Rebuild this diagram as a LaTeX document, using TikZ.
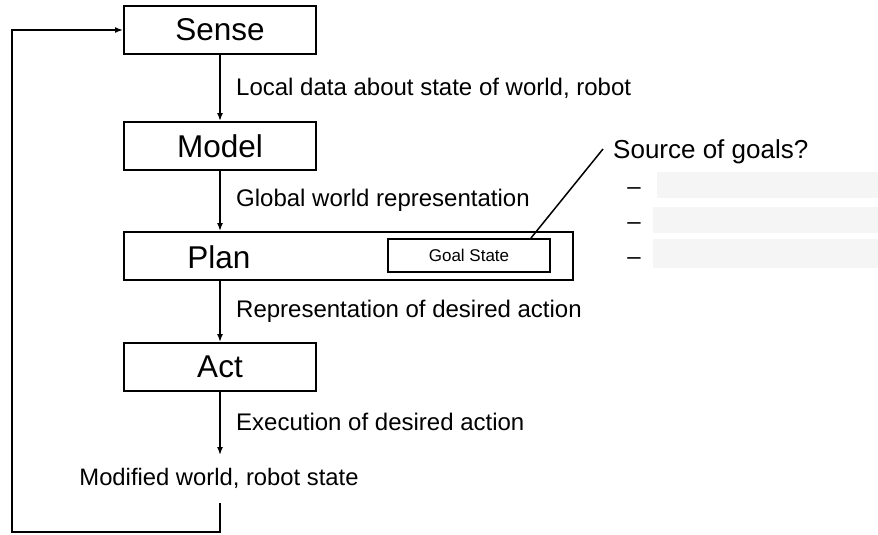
\documentclass[tikz,border=0pt]{standalone}
\usepackage{fontspec}
\setmainfont{Liberation Sans}
\usetikzlibrary{arrows.meta}
\begin{document}
\begin{tikzpicture}[x=1pt,y=-1pt,
  stagebox/.style={draw,line width=2pt,minimum width=192pt,minimum height=48pt,inner sep=0pt,font=\fontsize{31.5}{36}\selectfont},
  lbl/.style={anchor=west,inner sep=0pt,font=\fontsize{24}{28}\selectfont},
  flow/.style={line width=1.5pt,-{Latex[length=8pt,width=6pt]}},
  dashmark/.style={inner sep=0pt,font=\fontsize{24}{28}\selectfont}]
\useasboundingbox (0,0) rectangle (878,535);
\node[stagebox] (sense) at (220,30) {Sense};
\node[stagebox] (model) at (220,146) {Model};
\node[draw,line width=2pt,minimum width=449pt,minimum height=48pt,inner sep=0pt] (plan) at (348.5,256) {};
\node[inner sep=0pt,font=\fontsize{31.5}{36}\selectfont] (plantext) at (219,257) {Plan};
\node[draw,line width=2pt,minimum width=162pt,minimum height=33pt,inner sep=0pt,font=\fontsize{17}{20}\selectfont] (goal) at (469,255.5) {Goal State};
\node[stagebox] (act) at (220,367) {Act};
\node[inner sep=0pt,font=\fontsize{23.8}{28}\selectfont] (world) at (219,478) {Modified world, robot state};
\coordinate (actend) at (220,455);
\coordinate (wtop) at (220,503);
\coordinate (c1) at (220,532);
\coordinate (c2) at (12,532);
\coordinate (c3) at (12,30);
\draw[flow] (sense.south -| 220,0) -- (model.north -| 220,0);
\draw[flow] (model.south -| 220,0) -- (plan.north -| 220,0);
\draw[flow] (plan.south -| 220,0) -- (act.north -| 220,0);
\draw[flow] (act.south -| 220,0) -- (actend);
\draw[flow] (wtop) -- (c1) -- (c2) -- (c3) -- (sense.west);
\node[lbl] (l1) at (236,88) {Local data about state of world, robot};
\node[lbl] (l2) at (236,200) {Global world representation};
\node[lbl] (l3) at (236,311) {Representation of desired action};
\node[lbl] (l4) at (236,422) {Execution of desired action};
\node[anchor=west,inner sep=0pt,font=\fontsize{26}{30}\selectfont] (src) at (613,152) {Source of goals?};
\coordinate (lineend) at (603,149);
\draw[line width=1.5pt] ([xshift=-20pt]goal.north east) -- (lineend);
\fill[black!4] (657,172) rectangle (878,198);
\fill[black!4] (653,207) rectangle (878,233);
\fill[black!4] (653,239) rectangle (878,268);
\node[dashmark] (d1) at (634,191) {–};
\node[dashmark] (d2) at (634,226) {–};
\node[dashmark] (d3) at (634,261) {–};
\end{tikzpicture}
\end{document}
